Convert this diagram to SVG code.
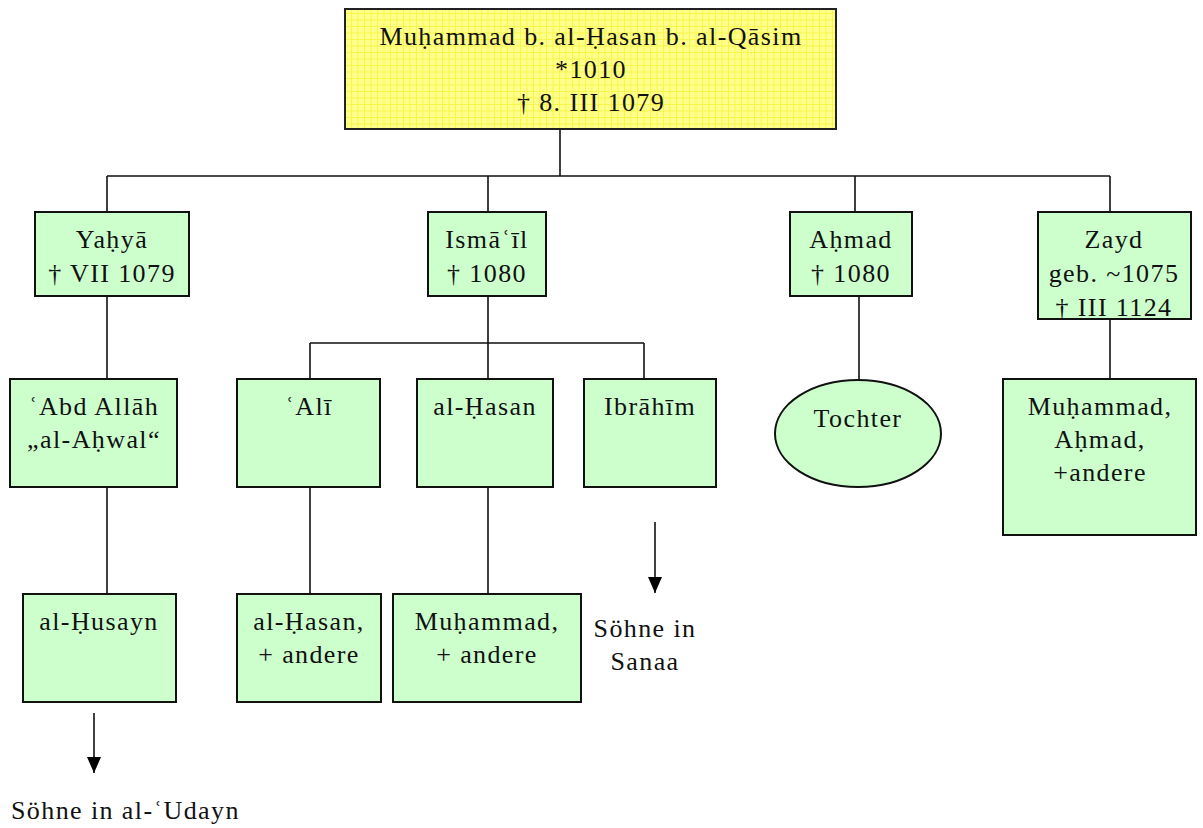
<svg xmlns="http://www.w3.org/2000/svg" width="1203" height="828" viewBox="0 0 1203 828">
<defs>
<pattern id="grid" width="6.5" height="6.5" patternUnits="userSpaceOnUse">
<rect width="6.5" height="6.5" fill="#ffff8c"/>
<path d="M0 0.5H6.5M0.5 0V6.5" stroke="#f6f64a" stroke-width="1"/>
</pattern>
<marker id="ah" viewBox="0 0 16 14" refX="16" refY="7" markerWidth="16" markerHeight="14" markerUnits="userSpaceOnUse" orient="auto">
<path d="M0 0L16 7L0 14Z" fill="#000"/>
</marker>
</defs>
<style>
.box{fill:#ccffcc;stroke:#111;stroke-width:2}
.top{fill:url(#grid);stroke:#222;stroke-width:2}
.t{font-family:"Liberation Serif","DejaVu Serif",serif;font-size:26px;letter-spacing:1.4px;fill:#111;text-anchor:middle}
.tl{text-anchor:start}
.ln{stroke:#111;stroke-width:1.6;fill:none}
</style>
<rect width="1203" height="828" fill="#fff"/>
<g id="connectors">
<path class="ln" d="M560 129V176M107 176H1110M107 176V212M488 176V212M855 176V212M1110 176V212"/>
<path class="ln" d="M107 296V379M488 296V343M310 343H644M310 343V379M488 343V379M644 343V379M859 296V380M1110 319V379"/>
<path class="ln" d="M107 487V594M310 487V594M488 487V594"/>
<line class="ln" x1="94" y1="713" x2="94" y2="773" marker-end="url(#ah)"/>
<line class="ln" x1="655" y1="522" x2="655" y2="593" marker-end="url(#ah)"/>
</g>
<g id="n-root">
<rect class="top" x="345" y="9" width="491" height="120"/>
<text class="t" x="591" y="45">Muḥammad b. al-Ḥasan b. al-Qāsim</text>
<text class="t" x="591" y="78">*1010</text>
<text class="t" x="591" y="111">† 8. III 1079</text>
</g>
<g id="n-yahya">
<rect class="box" x="35" y="212" width="154" height="84"/>
<text class="t" x="112" y="248">Yaḥyā</text>
<text class="t" x="112" y="282">† VII 1079</text>
</g>
<g id="n-ismail">
<rect class="box" x="428" y="212" width="118" height="84"/>
<text class="t" x="487" y="248">Ismāʿīl</text>
<text class="t" x="487" y="282">† 1080</text>
</g>
<g id="n-ahmad">
<rect class="box" x="790" y="212" width="122" height="84"/>
<text class="t" x="851" y="248">Aḥmad</text>
<text class="t" x="851" y="282">† 1080</text>
</g>
<g id="n-zayd">
<rect class="box" x="1038" y="212" width="153" height="107"/>
<text class="t" x="1114" y="248">Zayd</text>
<text class="t" x="1114" y="282">geb. ~1075</text>
<text class="t" x="1114" y="316">† III 1124</text>
</g>
<g id="n-abdallah">
<rect class="box" x="10" y="379" width="167" height="108"/>
<text class="t" x="94" y="415">ʿAbd Allāh</text>
<text class="t" x="94" y="448">„al-Aḥwal“</text>
</g>
<g id="n-ali">
<rect class="box" x="237" y="379" width="143" height="108"/>
<text class="t" x="309" y="415">ʿAlī</text>
</g>
<g id="n-hasan">
<rect class="box" x="417" y="379" width="136" height="108"/>
<text class="t" x="485" y="415">al-Ḥasan</text>
</g>
<g id="n-ibrahim">
<rect class="box" x="584" y="379" width="132" height="108"/>
<text class="t" x="650" y="415">Ibrāhīm</text>
</g>
<g id="n-tochter">
<ellipse class="box" cx="858" cy="433.5" rx="83" ry="53.5"/>
<text class="t" x="858" y="427">Tochter</text>
</g>
<g id="n-zaydsons">
<rect class="box" x="1003" y="379" width="193" height="156"/>
<text class="t" x="1100" y="415">Muḥammad,</text>
<text class="t" x="1100" y="448">Aḥmad,</text>
<text class="t" x="1100" y="481">+andere</text>
</g>
<g id="n-husayn">
<rect class="box" x="23" y="594" width="153" height="108"/>
<text class="t" x="99" y="630">al-Ḥusayn</text>
</g>
<g id="n-hasan2">
<rect class="box" x="237" y="594" width="144" height="108"/>
<text class="t" x="309" y="630">al-Ḥasan,</text>
<text class="t" x="309" y="663">+ andere</text>
</g>
<g id="n-muhammad2">
<rect class="box" x="393" y="594" width="188" height="108"/>
<text class="t" x="487" y="630">Muḥammad,</text>
<text class="t" x="487" y="663">+ andere</text>
</g>
<g id="n-sanaa">
<text class="t" x="645" y="637">Söhne in</text>
<text class="t" x="645" y="670">Sanaa</text>
</g>
<g id="n-udayn">
<text class="t tl" x="11" y="819">Söhne in al-ʿUdayn</text>
</g>
</svg>
